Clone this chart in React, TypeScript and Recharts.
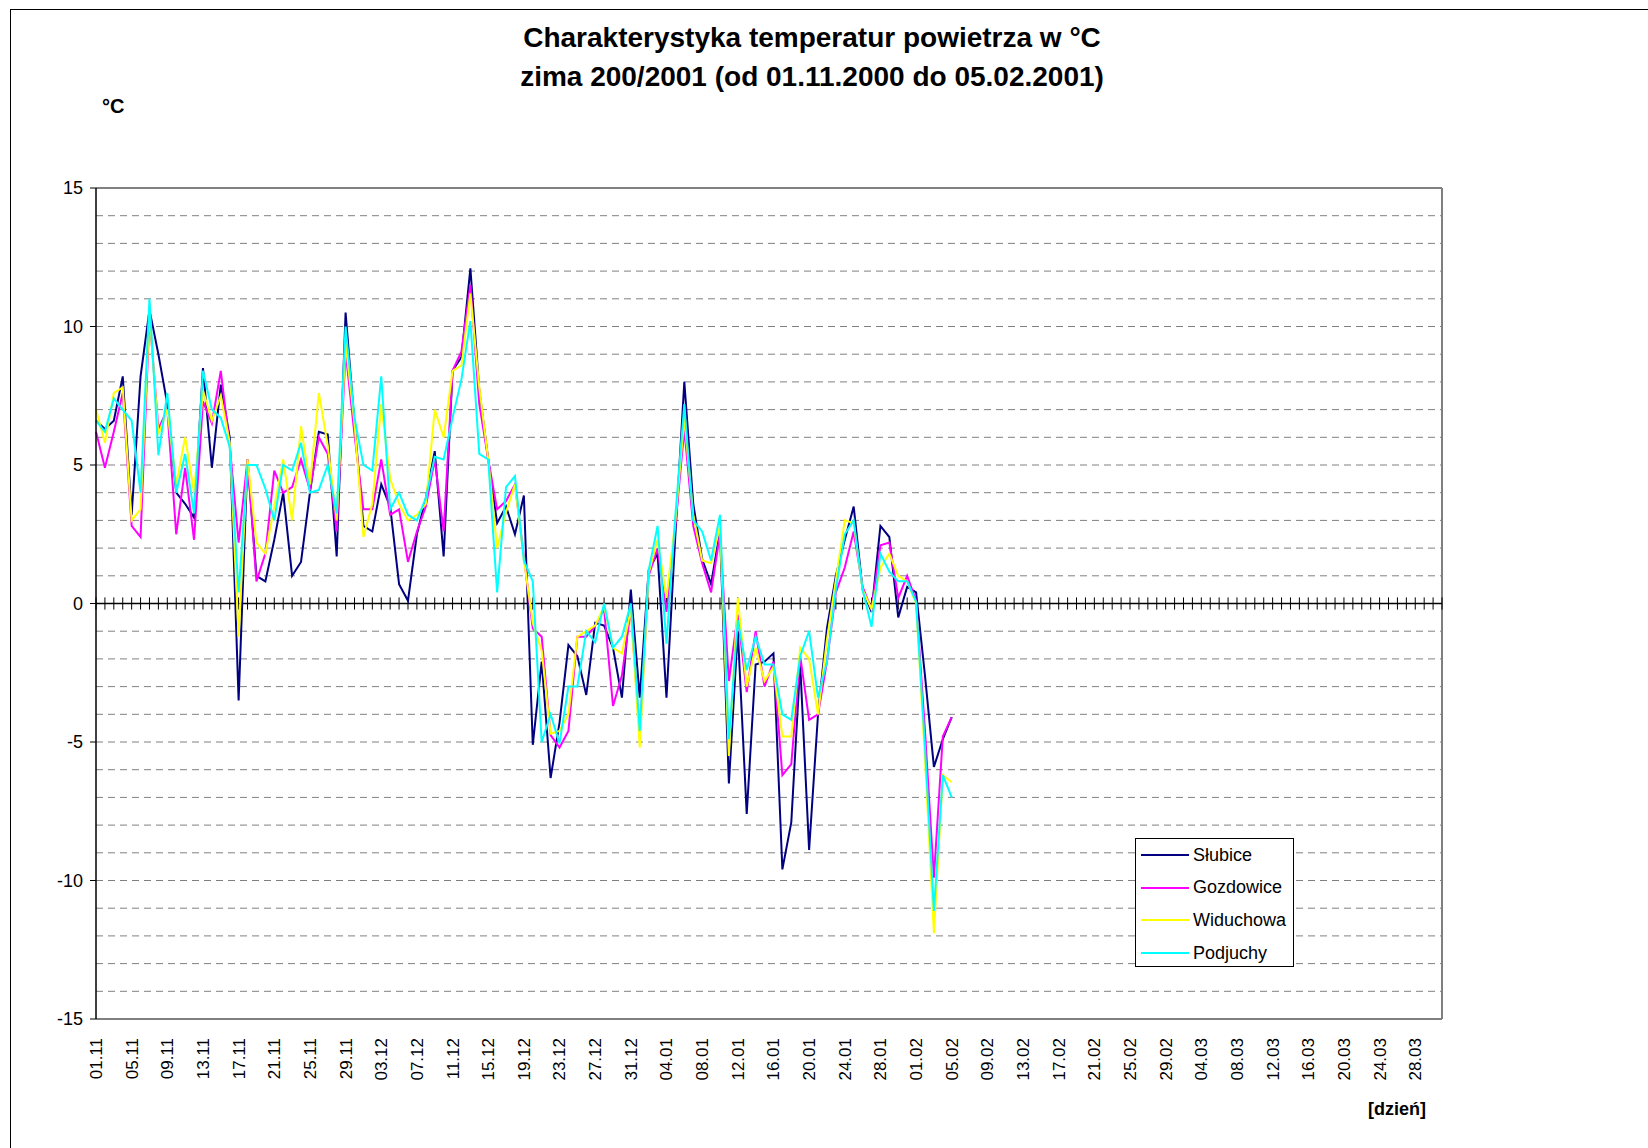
import React from "react";
import {
  LineChart,
  Line,
  XAxis,
  YAxis,
  ReferenceLine,
} from "recharts";

// day labels 01.11 .. 31.03 (the source sheet used a 29-day February)
const monthTable: [string, number][] = [
  ["11", 30],
  ["12", 31],
  ["01", 31],
  ["02", 29],
  ["03", 31],
];
const days = monthTable.flatMap(([m, n]) =>
  Array.from({ length: n }, (_, k) => `${String(k + 1).padStart(2, "0")}.${m}`)
);

// daily air temperature, 01.11.2000 - 05.02.2001
const slubice = [
  6.6, 6.3, 6.6, 8.2, 3.2, 8.2, 10.6, 9.0, 7.2, 4.0, 3.6, 3.1, 8.5, 4.9, 7.9, 6.0,
  -3.5, 5.2, 1.0, 0.8, 2.3, 4.0, 1.0, 1.5, 4.0, 6.2, 6.1, 1.7, 10.5, 6.5, 2.8, 2.6,
  4.3, 3.5, 0.7, 0.1, 2.5, 3.8, 5.5, 1.7, 8.4, 8.9, 12.1, 7.7, 5.2, 2.9, 3.5, 2.5,
  3.9, -5.1, -2.1, -6.3, -4.3, -1.5, -1.9, -3.3, -0.7, -0.8, -1.6, -3.4, 0.5, -3.4,
  1.2, 1.8, -3.4, 2.5, 8.0, 3.6, 1.6, 0.7, 2.6, -6.5, -1.0, -7.6, -2.2, -2.1, -1.8,
  -9.6, -7.9, -2.2, -8.9, -4.0, -0.9, 1.0, 2.3, 3.5, 0.5, -0.3, 2.8, 2.4, -0.5, 0.6,
  0.4, -2.6, -5.9, -4.9, -4.1,
];
const gozdowice = [
  6.2, 4.9, 6.2, 7.6, 2.8, 2.4, 10.4, 6.3, 7.0, 2.5, 4.9, 2.3, 7.3, 6.5, 8.4, 5.7,
  2.2, 5.2, 0.8, 1.8, 4.8, 4.0, 4.2, 5.2, 4.1, 6.0, 5.4, 2.6, 9.1, 6.1, 3.4, 3.4,
  5.2, 3.2, 3.4, 1.5, 2.6, 3.5, 5.2, 2.6, 8.4, 9.1, 11.5, 7.2, 5.2, 3.4, 3.7, 4.3,
  1.7, -0.9, -1.2, -4.75, -5.2, -4.6, -1.2, -1.2, -0.8, -0.2, -3.7, -2.6, -0.2, -4.8,
  1.0, 2.0, -0.3, 2.8, 6.3, 2.8, 1.45, 0.4, 2.5, -2.8, -0.4, -3.2, -1.0, -3.0, -2.1,
  -6.2, -5.8, -1.9, -4.2, -4.0, -2.1, 0.4, 1.3, 2.6, 0.6, -0.2, 2.1, 2.2, 0.2, 1.0,
  0.1, -4.6, -9.9, -4.8, -4.1,
];
const widuchowa = [
  7.0, 5.8, 7.6, 7.8, 3.0, 3.4, 10.5, 6.1, 7.0, 4.3, 6.0, 4.0, 7.7, 6.6, 7.5, 5.8,
  -1.2, 5.2, 2.2, 1.8, 3.5, 5.2, 3.0, 6.4, 4.3, 7.6, 5.7, 3.0, 9.4, 6.5, 2.4, 3.6,
  7.2, 4.5, 3.6, 3.0, 3.2, 3.6, 7.0, 6.0, 8.4, 8.6, 11.2, 7.8, 5.2, 2.0, 3.3, 4.3,
  1.6, -0.7, -1.7, -4.7, -4.6, -4.0, -1.2, -1.0, -0.8, -0.1, -1.6, -1.8, -0.2, -5.2,
  1.1, 2.3, 0.2, 3.0, 6.7, 3.2, 1.55, 1.45, 2.8, -5.5, 0.2, -3.0, -1.6, -2.8, -2.3,
  -4.8, -4.8, -1.6, -2.0, -4.0, -1.3, 0.85, 3.0, 2.9, 0.5, -0.2, 1.3, 1.8, 1.0, 0.8,
  0.0, -5.6, -11.9, -6.2, -6.45,
];
const podjuchy = [
  6.6, 6.2, 7.4, 7.0, 6.6, 4.0, 11.0, 5.35, 7.6, 4.0, 5.4, 3.25, 8.4, 7.0, 6.7, 5.65,
  0.4, 5.0, 5.0, 4.15, 3.0, 5.0, 4.8, 5.8, 4.0, 4.1, 5.0, 3.25, 10.0, 6.7, 5.0, 4.8,
  8.2, 3.4, 4.0, 3.2, 3.0, 3.8, 5.3, 5.2, 6.7, 8.1, 10.2, 5.4, 5.2, 0.4, 4.2, 4.6,
  1.55, 0.8, -5.0, -4.0, -5.05, -3.0, -3.0, -1.0, -1.4, 0.0, -1.6, -1.2, 0.0, -4.6,
  1.2, 2.8, -1.45, 3.2, 7.2, 3.0, 2.6, 1.55, 3.2, -4.9, -0.6, -2.4, -1.2, -2.2, -2.2,
  -4.0, -4.2, -1.9, -1.0, -3.4, -2.1, 0.5, 2.5, 3.0, 0.5, -0.84, 1.8, 1.15, 0.8, 0.8,
  0.06, -5.2, -11.1, -6.2, -7.0,
];

const series = [
  { key: "slubice", name: "Słubice", color: "#000080", values: slubice },
  { key: "gozdowice", name: "Gozdowice", color: "#FF00FF", values: gozdowice },
  { key: "widuchowa", name: "Widuchowa", color: "#FFFF00", values: widuchowa },
  { key: "podjuchy", name: "Podjuchy", color: "#00FFFF", values: podjuchy },
];

const yTicks = [-15, -10, -5, 0, 5, 10, 15];
const gridLevels = Array.from({ length: 29 }, (_, k) => k - 14).filter((v) => v !== 0);

const data = days.map((day, i) => {
  const row: Record<string, string | number | null> = { day };
  series.forEach((s) => {
    row[s.key] = i < s.values.length ? s.values[i] : null;
  });
  return row;
});

const FONT = "'Liberation Sans', Arial, sans-serif";

const DayTick = (props: any) => {
  const { x, y, payload } = props;
  return (
    <text
      x={0}
      y={0}
      transform={`translate(${x},${y + 19}) rotate(-90)`}
      textAnchor="end"
      dy="0.35em"
      fontSize={17}
      fontFamily={FONT}
      fill="#000"
    >
      {payload.value}
    </text>
  );
};

export default function App() {
  return (
    <div
      style={{
        position: "relative",
        width: 1648,
        height: 1148,
        overflow: "hidden",
        background: "#fff",
        fontFamily: FONT,
      }}
    >
      <style>{`body{margin:0}`}</style>
      <div
        style={{
          position: "absolute",
          left: 10,
          top: 9,
          width: 2000,
          height: 2000,
          border: "1px solid #000",
        }}
      />
      <div
        style={{
          position: "absolute",
          left: 0,
          width: 1624,
          top: 18,
          textAlign: "center",
          fontWeight: "bold",
          fontSize: 28,
          lineHeight: "39px",
          color: "#000",
        }}
      >
        Charakterystyka temperatur powietrza w °C
        <br />
        zima 200/2001 (od 01.11.2000 do 05.02.2001)
      </div>
      <div
        style={{
          position: "absolute",
          left: 102,
          top: 95,
          fontWeight: "bold",
          fontSize: 20,
        }}
      >
        °C
      </div>
      <div
        style={{
          position: "absolute",
          left: 1368,
          top: 1099,
          fontWeight: "bold",
          fontSize: 18,
        }}
      >
        [dzień]
      </div>

      <div style={{ position: "absolute", left: 0, top: 0 }}>
        <LineChart
          width={1648}
          height={1148}
          data={data}
          margin={{ top: 188, right: 206, bottom: 0, left: 36 }}
        >
          {gridLevels.map((v) => (
            <ReferenceLine
              key={`g${v}`}
              y={v}
              stroke="#808080"
              strokeDasharray="7 5"
              strokeWidth={1}
            />
          ))}
          <ReferenceLine y={15} stroke="#808080" strokeWidth={2} />
          <ReferenceLine x={days[days.length - 1]} stroke="#808080" strokeWidth={2} />
          <XAxis
            dataKey="day"
            interval={3}
            height={129}
            tickLine={false}
            tickSize={0}
            tickMargin={0}
            axisLine={{ stroke: "#808080", strokeWidth: 2 }}
            tick={<DayTick />}
          />
          <YAxis
            domain={[-15, 15]}
            ticks={yTicks}
            width={60}
            tickSize={6}
            tickMargin={7}
            axisLine={{ stroke: "#000", strokeWidth: 1.5 }}
            tickLine={{ stroke: "#000" }}
            tick={{ fontSize: 18, fill: "#000", fontFamily: FONT }}
          />
          <ReferenceLine y={0} stroke="#000" strokeWidth={1.5} />
          {days.map((d) => (
            <ReferenceLine
              key={`t${d}`}
              segment={[
                { x: d, y: -0.22 },
                { x: d, y: 0.22 },
              ]}
              stroke="#000"
              strokeWidth={1}
            />
          ))}
          {series.map((s) => (
            <Line
              key={s.key}
              dataKey={s.key}
              name={s.name}
              type="linear"
              stroke={s.color}
              strokeWidth={2}
              dot={false}
              activeDot={false}
              isAnimationActive={false}
            />
          ))}
        </LineChart>
      </div>

      <div
        style={{
          position: "absolute",
          left: 1135,
          top: 838,
          width: 159,
          height: 129,
          border: "1px solid #000",
          background: "#fff",
          boxSizing: "border-box",
        }}
      >
        {series.map((s, i) => (
          <div
            key={s.key}
            style={{
              position: "absolute",
              left: 5,
              top: 16 + i * 32.7 - 12,
              height: 24,
              display: "flex",
              alignItems: "center",
              fontSize: 18,
              color: "#000",
              whiteSpace: "nowrap",
            }}
          >
            <span
              style={{
                display: "inline-block",
                width: 48,
                height: 2,
                background: s.color,
                marginRight: 4,
              }}
            />
            {s.name}
          </div>
        ))}
      </div>
    </div>
  );
}
